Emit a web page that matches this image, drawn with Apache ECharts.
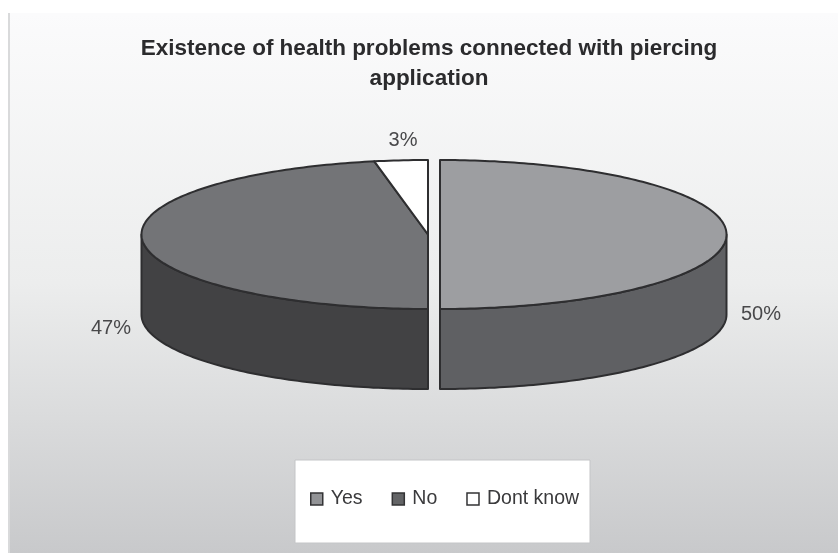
<!DOCTYPE html>
<html>
<head>
    <meta charset="UTF-8">
    <title>Existence of health problems</title>
    <script src="https://cdn.jsdelivr.net/npm/echarts@6/dist/echarts.min.js"></script>
    <style>
        html, body { margin: 0; padding: 0; background: #fff; }
        #main { width: 838px; height: 553px; }
    </style>
</head>
<body>
<div id="main"></div>
<script>
    var categories = ['Yes', 'No', 'Dont know'];
    var values = [50, 47, 3];

    // slice look, same order as categories
    var topColors = ['#9d9ea1', '#737477', '#ffffff'];
    var wallColors = ['#5f6063', '#424244', '#ffffff'];
    var legendColors = ['#929396', '#636466', '#ffffff'];
    var centerX = [440, 428, 428]; // Yes is pulled out of the pie
    var labelPos = [[761, 314], [111, 328], [403, 140]];

    var centerY = 234.5, rx = 286.5, ry = 74.5, depth = 80;
    var total = values.reduce(function (a, b) { return a + b; }, 0);

    function point(cx, deg, dy) {
        // deg goes clockwise from the top of the pie
        var r = deg * Math.PI / 180;
        return [cx + rx * Math.sin(r), centerY - ry * Math.cos(r) + (dy || 0)];
    }

    function arc(cx, from, to, dy) {
        var pts = [];
        var steps = Math.max(2, Math.ceil(Math.abs(to - from)));
        for (var i = 0; i <= steps; i++) {
            pts.push(point(cx, from + (to - from) * i / steps, dy));
        }
        return pts;
    }

    function startOf(index) {
        var sum = 0;
        for (var i = 0; i < index; i++) sum += values[i];
        return sum / total * 360;
    }

    var lineStyle = { stroke: '#2e2e30', lineWidth: 2, lineJoin: 'round' };

    function sliceRenderer(index) {
        return function (params, api) {
            var value = api.value(0);
            var from = startOf(index);
            var to = from + value / total * 360;
            var cx = centerX[index];
            var children = [];

            // only the part between right and left edge faces the viewer
            var wallFrom = Math.max(from, 90), wallTo = Math.min(to, 270);
            if (wallTo > wallFrom) {
                var wall = arc(cx, wallFrom, wallTo, 0).concat(arc(cx, wallTo, wallFrom, depth));
                children.push({
                    type: 'polygon',
                    shape: { points: wall },
                    style: Object.assign({ fill: wallColors[index] }, lineStyle)
                });
            }

            children.push({
                type: 'polygon',
                shape: { points: [[cx, centerY]].concat(arc(cx, from, to, 0)) },
                style: Object.assign({ fill: topColors[index] }, lineStyle)
            });

            children.push({
                type: 'text',
                x: labelPos[index][0],
                y: labelPos[index][1],
                style: {
                    text: value + '%',
                    fill: '#48484a',
                    font: '20px "Liberation Sans", Arial, sans-serif',
                    align: 'center',
                    verticalAlign: 'middle'
                }
            });

            return { type: 'group', children: children };
        };
    }

    var myChart = echarts.init(document.getElementById('main'), null, { renderer: 'canvas' });

    var option = {
        animation: false,
        backgroundColor: '#ffffff',
        title: {
            text: 'Existence of health problems connected with piercing\napplication',
            left: 424,
            top: 29,
            textAlign: 'center',
            textStyle: {
                fontFamily: '"Liberation Sans", Arial, sans-serif',
                fontSize: 22.5,
                fontWeight: 'bold',
                color: '#2b2b2d',
                lineHeight: 30
            }
        },
        legend: {
            data: categories,
            left: 310,
            top: 489,
            padding: 0,
            icon: 'rect',
            itemWidth: 12,
            itemHeight: 12,
            itemGap: 29,
            itemStyle: { borderColor: '#333335', borderWidth: 1.5 },
            selectedMode: false,
            textStyle: {
                fontFamily: '"Liberation Sans", Arial, sans-serif',
                fontSize: 19.5,
                color: '#3a3a3c',
                padding: [0, 0, 0, 3]
            }
        },
        graphic: [
            {
                type: 'rect',
                z: 0,
                shape: { x: 10, y: 13, width: 828, height: 540 },
                style: {
                    fill: new echarts.graphic.LinearGradient(0, 0, 0, 1, [
                        { offset: 0, color: '#fbfbfc' },
                        { offset: 0.5, color: '#eceded' },
                        { offset: 1, color: '#c8c9cb' }
                    ])
                }
            },
            {
                type: 'rect',
                z: 0,
                shape: { x: 8, y: 13, width: 2, height: 540 },
                style: { fill: '#d9dadb' }
            },
            {
                type: 'rect',
                z: 1,
                shape: { x: 295, y: 460, width: 295, height: 83 },
                style: { fill: '#ffffff', stroke: '#c4c5c7', lineWidth: 1 }
            }
        ],
        series: categories.map(function (name, i) {
            return {
                type: 'custom',
                name: name,
                coordinateSystem: 'none',
                itemStyle: { color: legendColors[i] },
                renderItem: sliceRenderer(i),
                data: [values[i]]
            };
        })
    };
    myChart.setOption(option);
</script>
</body>
</html>
